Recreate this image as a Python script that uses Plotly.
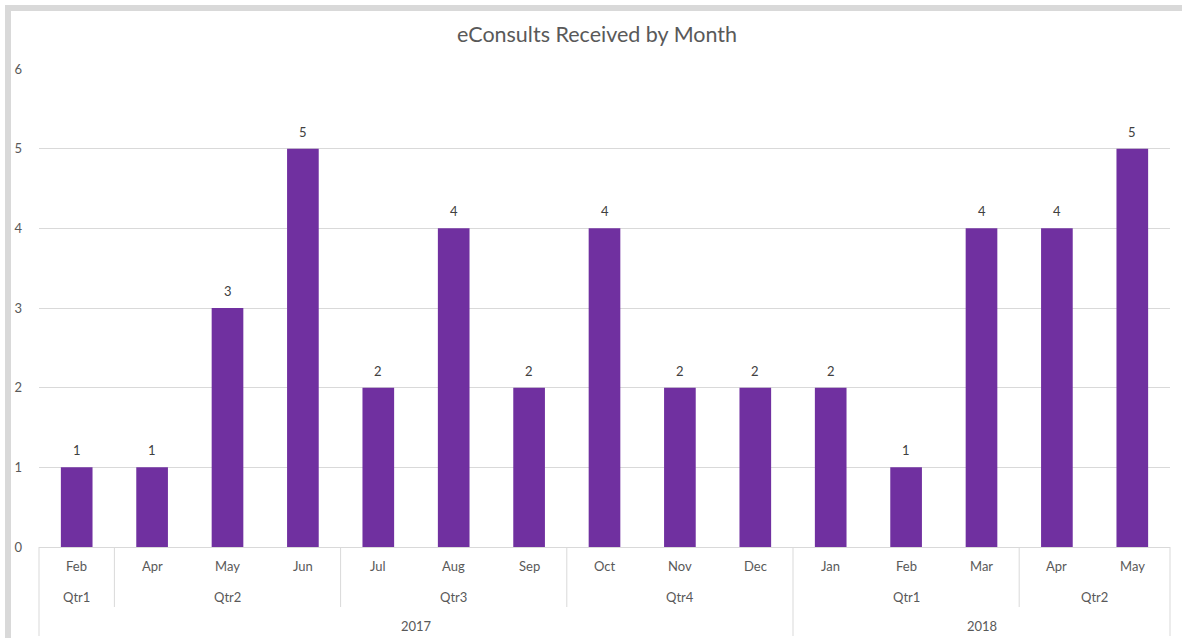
import plotly.graph_objects as go

months = ["Feb", "Apr", "May", "Jun", "Jul", "Aug", "Sep", "Oct", "Nov", "Dec",
          "Jan", "Feb", "Mar", "Apr", "May"]
quarters = ["Qtr1", "Qtr2", "Qtr2", "Qtr2", "Qtr3", "Qtr3", "Qtr3", "Qtr4", "Qtr4", "Qtr4",
            "Qtr1", "Qtr1", "Qtr1", "Qtr2", "Qtr2"]
years = ["2017"] * 10 + ["2018"] * 5
values = [1, 1, 3, 5, 2, 4, 2, 4, 2, 2, 2, 1, 4, 4, 5]

W, H = 1182, 638
L, R, T, B = 39, 1170, 69, 547
PW, PH = R - L, B - T

def px_x(p):
    return (p - L) / PW

def px_y(p):
    return (B - p) / PH

n = len(values)
x_idx = list(range(n))

fig = go.Figure()
fig.add_trace(go.Bar(
    x=x_idx, y=values, width=0.42,
    marker=dict(color="#7030A0", line=dict(width=0)),
    hoverinfo="skip",
))

def runs(labels, keys):
    out = []
    start = 0
    for i in range(1, n + 1):
        if i == n or keys[i] != keys[start]:
            out.append((start, i - 1, labels[start]))
            start = i
    return out

quarter_keys = [y + q for y, q in zip(years, quarters)]
q_runs = runs(quarters, quarter_keys)
y_runs = runs(years, years)

annotations = []
shapes = []
lab_font = dict(color="#595959", size=13, family="Lato")
val_font = dict(color="#404040", size=13, family="Lato")

# data labels above bars
for xi, v in zip(x_idx, values):
    annotations.append(dict(x=xi, y=v, xref="x", yref="y", text=str(v),
                            showarrow=False, font=val_font,
                            xanchor="center", yanchor="middle", yshift=17))

for i, m in enumerate(months):
    annotations.append(dict(x=(i + 0.5) / n, y=px_y(566), xref="paper", yref="paper",
                            text=m, showarrow=False, font=lab_font,
                            xanchor="center", yanchor="middle"))
for s, e, lab in q_runs:
    annotations.append(dict(x=(s + e + 1) / 2 / n, y=px_y(597), xref="paper", yref="paper",
                            text=lab, showarrow=False, font=lab_font,
                            xanchor="center", yanchor="middle"))
for s, e, lab in y_runs:
    annotations.append(dict(x=(s + e + 1) / 2 / n, y=px_y(626), xref="paper", yref="paper",
                            text=lab, showarrow=False, font=lab_font,
                            xanchor="center", yanchor="middle"))

line_col = "#d9d9d9"
year_bounds = {0, n}
for s, e, lab in y_runs:
    year_bounds.add(s)
    year_bounds.add(e + 1)
q_bounds = set()
for s, e, lab in q_runs:
    q_bounds.add(s)
    q_bounds.add(e + 1)
for b in sorted(year_bounds):
    shapes.append(dict(type="line", xref="paper", yref="paper",
                       x0=b / n, x1=b / n, y0=0, y1=px_y(636),
                       line=dict(color=line_col, width=1)))
for b in sorted(q_bounds - year_bounds):
    shapes.append(dict(type="line", xref="paper", yref="paper",
                       x0=b / n, x1=b / n, y0=0, y1=px_y(607),
                       line=dict(color=line_col, width=1)))

# outer gray frame (top and left bands)
frame_col = "#d9d9d9"
shapes.append(dict(type="rect", xref="paper", yref="paper", layer="below",
                   x0=px_x(5), x1=px_x(W + 5), y0=px_y(11), y1=px_y(5),
                   fillcolor=frame_col, line=dict(width=0)))
shapes.append(dict(type="rect", xref="paper", yref="paper", layer="below",
                   x0=px_x(5), x1=px_x(11), y0=px_y(H + 5), y1=px_y(5),
                   fillcolor=frame_col, line=dict(width=0)))

fig.update_layout(
    width=W, height=H,
    margin=dict(l=L, r=W - R, t=T, b=H - B, pad=0),
    paper_bgcolor="white", plot_bgcolor="white",
    showlegend=False,
    title=dict(text="eConsults Received by Month", x=597 / W, xanchor="center",
               y=1 - 34 / H, yanchor="middle",
               font=dict(color="#595959", size=21.5, family="Lato")),
    xaxis=dict(range=[-0.5, n - 0.5], showticklabels=False, showgrid=False,
               zeroline=False, showline=False, ticks="", fixedrange=True),
    yaxis=dict(range=[0, 6], dtick=1, showgrid=True, gridcolor=line_col, gridwidth=1,
               zeroline=True, zerolinecolor=line_col, zerolinewidth=1,
               showline=False, ticks="", ticklabelstandoff=16,
               tickfont=dict(color="#595959", size=13, family="Lato")),
    annotations=annotations, shapes=shapes,
    bargap=0.58,
)

fig.write_html("out.html", config={"displayModeBar": False},
               post_script="document.body.style.margin='0';document.body.style.overflow='hidden';")
